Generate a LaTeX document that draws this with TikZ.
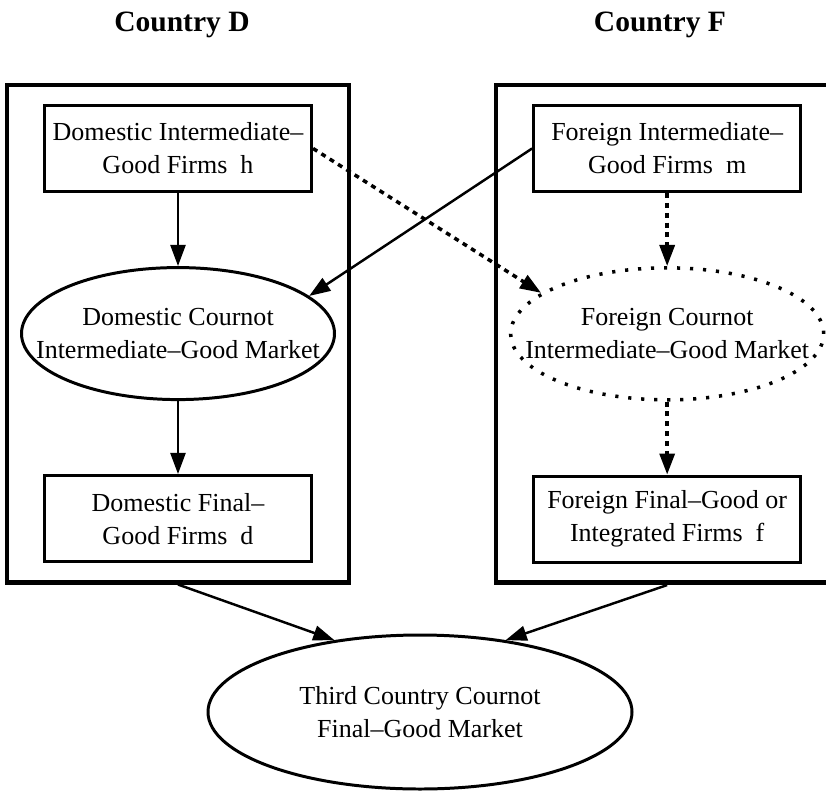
\documentclass[tikz,border=0pt]{standalone}
\usepackage{fontspec}
\setmainfont{Liberation Serif}
\usepackage{tikz}
\usetikzlibrary{arrows.meta, positioning, shapes.geometric, fit}

\begin{document}
\begin{tikzpicture}[>=Triangle, node distance=1.46cm, thick]

% --- Style Definitions ---
% Firm Nodes (plain boxes)
\tikzstyle{firm_node}=[rectangle, draw, line width=1.8pt, minimum width=5.34cm, minimum height=1.72cm, inner xsep=2pt, align=center, font=\fontsize{14.8}{18.8}\selectfont]
% Market Nodes (ellipses, sized by hand)
\tikzstyle{market_node}=[ellipse, draw, line width=1.7pt, minimum width=6.26cm, minimum height=2.64cm, inner xsep=-1cm, inner ysep=0pt, align=center, font=\fontsize{14.8}{18.8}\selectfont]
\tikzstyle{dotted_market}=[market_node, line width=2pt, dash pattern=on 1.8pt off 5.6pt]
% Country Frames
\tikzstyle{country_box}=[rectangle, draw, line width=2.6pt, inner xsep=0.26cm, inner ysep=0.38cm]
\tikzstyle{title_node}=[font=\fontsize{16.8}{20}\selectfont\bfseries]

% Arrow Styles
\tikzstyle{trade_arrow}=[-{Triangle[length=12pt, width=8.5pt]}, line width=1.4pt]
\tikzstyle{dot_arrow}=[-{Triangle[length=12pt, width=8.5pt]}, line width=2pt, dash pattern=on 2.8pt off 2.8pt]

\useasboundingbox (0,0) rectangle (16.52,-15.82);

% --- 1. Country D (left column) ---
\node[firm_node] (DomInt) at (3.56,-2.97) {Domestic Intermediate--\\Good Firms~~h};
\node[market_node, below=of DomInt] (DomMkt) {Domestic Cournot\\Intermediate--Good Market};
\node[firm_node, below=of DomMkt] (DomFin) {Domestic Final--\\Good Firms~~d};

\draw[trade_arrow] (DomInt) -- (DomMkt);
\draw[trade_arrow] (DomMkt) -- (DomFin);


% --- 2. Country F (right column) ---
\node[firm_node, right=4.38cm of DomInt] (ForInt) {Foreign Intermediate--\\Good Firms~~m};
\node[dotted_market, below=of ForInt] (ForMkt) {Foreign Cournot\\Intermediate--Good Market};
\node[firm_node, below=of ForMkt] (ForFin) {Foreign Final--Good or\\Integrated Firms~~f};

\draw[dot_arrow] (ForInt) -- (ForMkt);
\draw[dot_arrow] (ForMkt) -- (ForFin);


% --- 3. Frames and Titles ---
\node[country_box, fit=(DomInt)(DomMkt)(DomFin)] (CountryD) {};
\node[country_box, fit=(ForInt)(ForMkt)(ForFin)] (CountryF) {};

\node[title_node] (TitleD) at (3.64,-0.5) {Country D};
\node[title_node] (TitleF) at (13.2,-0.5) {Country F};


% --- 4. Cross-border Supply ---
\draw[trade_arrow] (ForInt.west) -- (DomMkt.16);
\draw[dot_arrow] (DomInt.east) -- (ForMkt.162);


% --- 5. Third Country Market ---
\node[market_node, minimum width=8.48cm, minimum height=3.08cm] (ThirdMkt) at (8.4,-14.24) {Third Country Cournot\\Final--Good Market};

\draw[trade_arrow] (CountryD.south) -- (ThirdMkt.140);
\draw[trade_arrow] (CountryF.south) -- (ThirdMkt.40);

\end{tikzpicture}
\end{document}
